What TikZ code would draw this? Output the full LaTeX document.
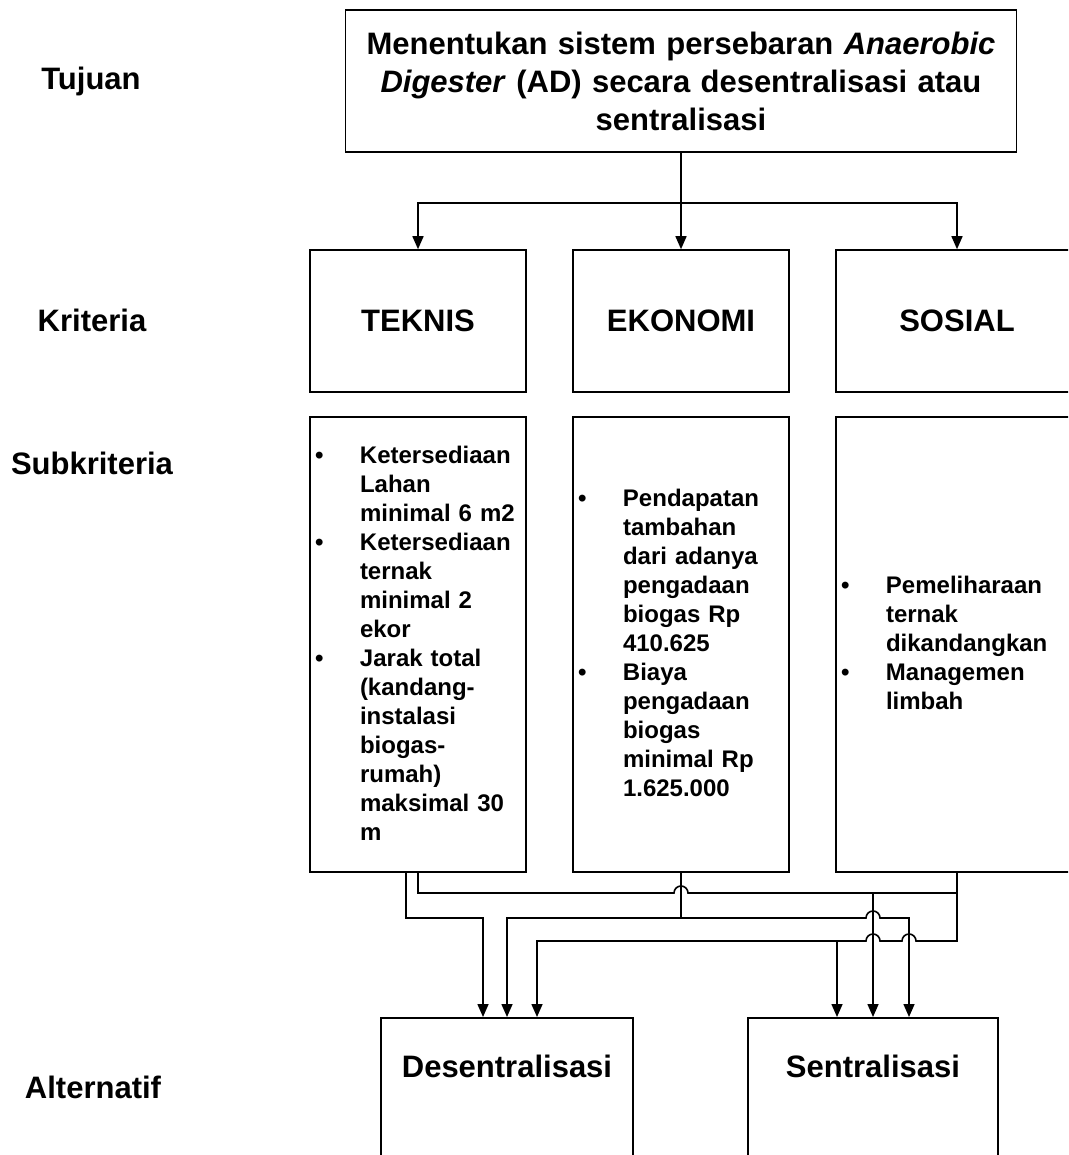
\documentclass[tikz,border=0pt]{standalone}
\usepackage{fontspec}
\setmainfont{Liberation Sans}
\usetikzlibrary{arrows.meta}
\usetikzlibrary{calc}
\newlength{\butirjarak}
\setlength{\butirjarak}{45pt}
\newcommand{\butir}[1]{\par\noindent\hangindent=\butirjarak\hangafter=1\makebox[\butirjarak][l]{\textbullet}{\let\\\newline#1}\par}

\begin{document}
\begin{tikzpicture}[x=1pt,y=1pt,line width=1.6pt,
  font=\bfseries\fontsize{31}{38}\selectfont,
  kotak/.style={draw,line width=1.6pt,minimum width=216pt},
  isi/.style={kotak,minimum height=455pt,text width=206pt,inner xsep=5pt,
    font=\bfseries\fontsize{24}{29}\selectfont,execute at end node={\endgraf\kern14pt}},
  alt/.style={kotak,anchor=north,text height=22pt,text depth=110pt,inner ysep=38pt},
  panah/.style={-{Triangle[length=13pt,width=11pt]}}]
\useasboundingbox (0,0) rectangle (1068,-1155);
\clip (0,0) rectangle (1068,-1155);
% tingkat (kiri)
\node[anchor=base] (lblTujuan) at (91,-90) {Tujuan};
\node[anchor=base] (lblKriteria) at (92,-331) {Kriteria};
\node[anchor=base] (lblSub) at (92,-474) {Subkriteria};
\node[anchor=base] (lblAlt) at (93,-1098) {Alternatif};
% tujuan
\node[kotak,minimum width=671pt,minimum height=142pt,text width=660pt,align=center] (goal) at (681,-81)
  {Menentukan sistem persebaran \textit{Anaerobic}\\ \textit{Digester} (AD) secara desentralisasi atau\\ sentralisasi};
% kriteria
\node[kotak,minimum height=142pt] (teknis) at (418,-321) {TEKNIS};
\node[kotak,minimum height=142pt] (ekonomi) at (681,-321) {EKONOMI};
\node[kotak,minimum height=142pt,minimum width=242pt] (sosial) at (957,-321) {SOSIAL};
% subkriteria
\node[isi] (teknisSub) at (418,-644.5) {%
  \butir{Ketersediaan\\ Lahan\\ minimal 6 m2}
  \butir{Ketersediaan\\ ternak\\ minimal 2\\ ekor}
  \butir{Jarak total\\ (kandang-\\ instalasi\\ biogas-\\ rumah)\\ maksimal 30\\ m}};
\node[isi] (ekonomiSub) at (681,-644.5) {%
  \butir{Pendapatan\\ tambahan\\ dari adanya\\ pengadaan\\ biogas Rp\\ 410.625}
  \butir{Biaya\\ pengadaan\\ biogas\\ minimal Rp\\ 1.625.000}};
\node[isi,minimum width=242pt,text width=232pt] (sosialSub) at (957,-644.5) {%
  \butir{Pemeliharaan\\ ternak\\ dikandangkan}
  \butir{Managemen\\ limbah}};
% alternatif
\node[alt,minimum width=252pt] (desent) at (507,-1017) {Desentralisasi};
\node[alt,minimum width=250pt] (sent) at (873,-1017) {Sentralisasi};
% titik bantu
\coordinate (atas) at (0,-203);
\coordinate (j1) at (0,-893);
\coordinate (j2) at (0,-918);
\coordinate (j3) at (0,-941);
\coordinate (d1) at ([xshift=-24pt]desent.north);
\coordinate (d2) at (desent.north);
\coordinate (d3) at ([xshift=30pt]desent.north);
\coordinate (s1) at ([xshift=-36pt]sent.north);
\coordinate (s2) at (sent.north);
\coordinate (s3) at ([xshift=36pt]sent.north);
% tujuan -> kriteria
\draw[panah] (goal.south) -- (ekonomi.north);
\draw[panah] (goal.south |- atas) -| (teknis.north);
\draw[panah] (goal.south |- atas) -| (sosial.north);
% subkriteria -> alternatif
\draw[panah] ([xshift=-12pt]teknisSub.south) |- (d1 |- j2) -- (d1);
\draw[panah] (teknisSub.south) |- ($(ekonomiSub.south |- j1)+(-7,0)$)
  arc[start angle=180,end angle=0,radius=7] -| (s2);
\draw (sosialSub.south |- j1) -- (s2 |- j1);
\draw[panah] (ekonomiSub.south) |- (d2 |- j2) -- (d2);
\draw[panah] (ekonomiSub.south |- j2) -- ($(s2 |- j2)+(-7,0)$)
  arc[start angle=180,end angle=0,radius=7] -| (s3);
\draw[panah] (sosialSub.south) |- ($(s3 |- j3)+(7,0)$)
  arc[start angle=0,end angle=180,radius=7] -- ($(s2 |- j3)+(7,0)$)
  arc[start angle=0,end angle=180,radius=7] -| (d3);
\draw[panah] (s1 |- j3) -- (s1);
\end{tikzpicture}
\end{document}
